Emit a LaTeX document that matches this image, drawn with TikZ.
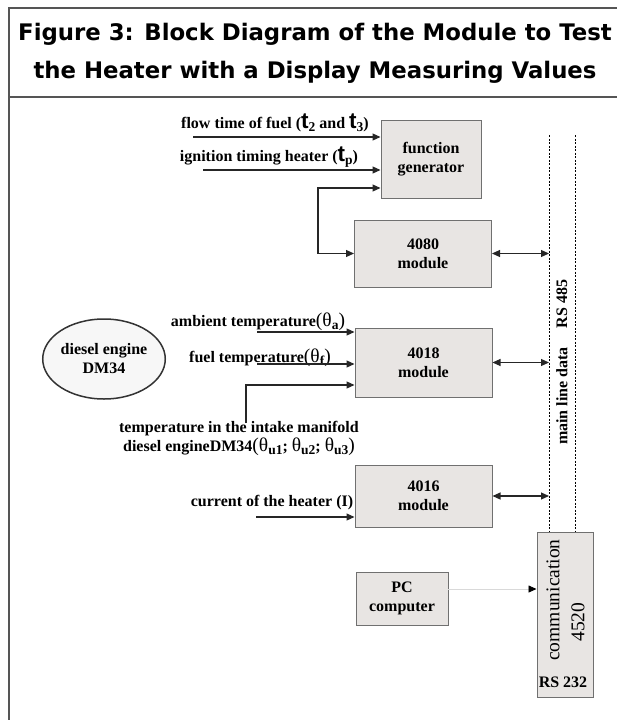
\documentclass[tikz,border=0pt]{standalone}
\usepackage{fontspec}
\setmainfont{Liberation Serif}
\newfontfamily\titlefont{DejaVu Sans}
\newfontfamily\tfont{Liberation Sans}
\usetikzlibrary{arrows.meta,shapes.geometric}
\definecolor{framec}{HTML}{555555}
\definecolor{boxfill}{HTML}{E8E5E3}
\definecolor{boxline}{HTML}{707070}
\tikzstyle{line} = [draw,{Triangle[length=8pt,width=7pt]}-{Triangle[length=8pt,width=7pt]},line width=1.1pt,black!85]
\tikzstyle{arrow} = [draw,-{Triangle[length=8pt,width=7pt]},line width=1.1pt,black!85]
\tikzstyle{block} = [draw=boxline,fill=boxfill,line width=1pt,align=center,inner sep=0pt]
\tikzstyle{bus} = [draw,line width=0.9pt,dash pattern=on 2pt off 1.5pt]
\newcommand{\lbl}{\fontsize{16}{19}\selectfont\bfseries}
\newcommand{\sub}[1]{\raisebox{-0.4ex}{\fontsize{13.5}{13.5}\selectfont #1}}
\newcommand{\bigsym}[1]{{\fontsize{19.5}{19}\selectfont\mdseries #1}}
\newcommand{\bigt}[1]{{\tfont\fontsize{22.5}{22}\selectfont t}\sub{#1}}
\begin{document}
\begin{tikzpicture}[x=1pt,y=-1pt,font=\lbl]
\useasboundingbox (0,0) rectangle (617,720);
\draw[framec,line width=2pt] (9,740) -- (9,8) -- (640,8);
\draw[framec,line width=2pt] (9,97) -- (640,97);
\node[anchor=base] (title1) at (315,40) {\titlefont\fontsize{22.8}{26}\selectfont\bfseries Figure 3: Block Diagram of the Module to Test};
\node[anchor=base] (title2) at (315,78) {\titlefont\fontsize{22.8}{26}\selectfont\bfseries the Heater with a Display Measuring Values};

\node[block,minimum width=100pt,minimum height=78pt] (fg) at (431,159) {function\\generator};
\node[block,minimum width=137pt,minimum height=67pt] (m4080) at (423,253.5) {4080\\module};
\node[block,minimum width=137pt,minimum height=69pt] (m4018) at (423.5,362.5) {4018\\module};
\node[block,minimum width=137pt,minimum height=62pt] (m4016) at (423.5,496) {4016\\module};
\node[block,minimum width=92pt,minimum height=53pt] (pc) at (402,598.5) {PC\\computer};
\node[block,minimum width=56pt,minimum height=165pt] (comm) at (565,614.5) {};
\node[ellipse,draw=black!80,fill=black!3,line width=1.5pt,minimum width=122pt,minimum height=80pt,align=center,inner sep=0pt] (engine) at (104,359) {diesel engine\\DM34};

\node (flowlbl) at (275,123) {flow time of fuel (\bigt{2} and \bigt{3})};
\node (ignlbl) at (269,157) {ignition timing heater (\bigt{p})};
\node (amblbl) at (258,322) {ambient temperature\bigsym{(θ}\sub{a}\bigsym{)}};
\node (fuellbl) at (260,358) {fuel temperature\bigsym{(θ}\sub{f}\bigsym{)}};
\node[align=center] (manlbl) at (239,438) {temperature in the intake manifold\\diesel engineDM34\bigsym{(θ}\sub{u1}; \bigsym{θ}\sub{u2}; \bigsym{θ}\sub{u3}\bigsym{)}};
\node (curlbl) at (272,503) {current of the heater (I)};

\coordinate (busl) at (549,135);
\coordinate (busr) at (575,135);
\draw[bus] (busl) -- (busl |- comm.north);
\draw[bus] (busr) -- (busr |- comm.north);
\node[rotate=90] (rs485) at (562,304) {RS 485};
\node[rotate=90] (mainlbl) at (562,396) {main line data};
\node[rotate=90,font=\fontsize{19.5}{20}\selectfont] (commlbl) at (553,600) {communication};
\node[rotate=90,font=\fontsize{19.5}{20}\selectfont] (commnum) at (578,622) {4520};
\node (rs232) at (563,682) {RS 232};

\coordinate (flowin) at (193,137);
\coordinate (ignin) at (203,170);
\coordinate (fbk) at (318,188);
\draw[arrow] (flowin) -- (flowin -| fg.west);
\draw[arrow] (ignin) -- (ignin -| fg.west);
\draw[line] (fbk -| fg.west) -- (fbk) |- (m4080.west);
\draw[line] (m4080.east) -- (m4080.east -| busl);
\draw[line] (m4018.east) -- (m4018.east -| busl);
\draw[line] (m4016.east) -- (m4016.east -| busl);

\coordinate (ambin) at (257,332);
\coordinate (fuelin) at (257,364);
\coordinate (manin) at (246,423);
\coordinate (manhi) at (246,385);
\coordinate (curin) at (256,517);
\coordinate (pcy) at (448,589);
\draw[arrow] (ambin) -- (ambin -| m4018.west);
\draw[arrow] (fuelin) -- (fuelin -| m4018.west);
\draw[arrow] (manin) -- (manhi) -- (manhi -| m4018.west);
\draw[arrow] (curin) -- (curin -| m4016.west);
\draw[black!15,line width=0.8pt,-{Triangle[length=8pt,width=7pt,color=black]}] (pcy) -- (pcy -| comm.west);
\end{tikzpicture}
\end{document}
